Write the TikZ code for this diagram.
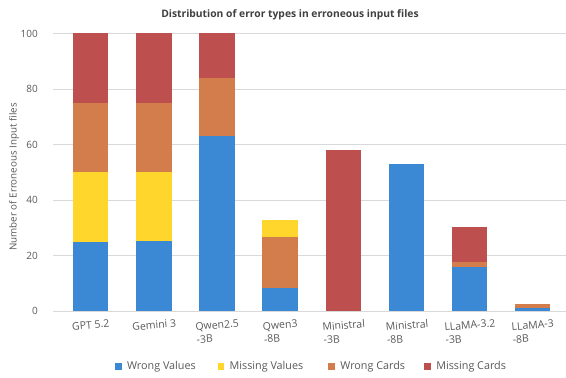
\documentclass[tikz,border=0pt]{standalone}
\usepackage{fontspec}
\setmainfont{Open Sans}
\usetikzlibrary{positioning}
\definecolor{wrongval}{RGB}{59,137,213}
\definecolor{missval}{RGB}{255,214,43}
\definecolor{wrongcard}{RGB}{210,125,75}
\definecolor{misscard}{RGB}{189,79,79}
\definecolor{gridgray}{RGB}{217,217,217}
\definecolor{labelgray}{RGB}{89,89,89}
\definecolor{titlegray}{RGB}{64,64,64}
% one stacked piece of a bar: centre x, from, to, colour
\newcommand{\barseg}[4]{\fill[#4] (#1-17.7,#2) rectangle (#1+17.7,#3);}

\begin{document}
\begin{tikzpicture}[x=1pt,y=1pt,
  grid/.style={draw=gridgray, line width=0.9pt},
  ticklbl/.style={anchor=east, inner sep=0pt, text=labelgray, font=\fontsize{10}{12}\selectfont},
  catlbl/.style={anchor=north, inner sep=0pt, align=left, rotate=5, text=labelgray, font=\fontsize{10.5}{13}\selectfont},
  legbox/.style={minimum size=6.5pt, inner sep=0pt},
  legtext/.style={inner sep=0pt, text=labelgray, font=\fontsize{10.8}{13}\selectfont}]
        \useasboundingbox[fill=white] (0,0) rectangle (566,378);

        \node[text=titlegray, font=\bfseries\fontsize{10.3}{12}\selectfont] (title) at (290,363) {Distribution of error types in erroneous input files};
        \node[rotate=90, text=labelgray, font=\fontsize{9.8}{12}\selectfont] (ytitle) at (14,201) {Number of Erroneous Input files};

        \begin{scope}[shift={(0,67)}, y=2.775pt]
        \foreach \v in {0,20,...,100} {
            \draw[grid] (53,\v) -- (566,\v);
            \node[ticklbl] (t\v) at (38,\v) {\v};
        }

        % GPT 5.2
        \barseg{90.3}{0}{25}{wrongval}
        \barseg{90.3}{25}{50}{missval}
        \barseg{90.3}{50}{75}{wrongcard}
        \barseg{90.3}{75}{100}{misscard}
        % Gemini 3
        \barseg{153.8}{0}{25.2}{wrongval}
        \barseg{153.8}{25.2}{50}{missval}
        \barseg{153.8}{50}{75}{wrongcard}
        \barseg{153.8}{75}{100}{misscard}
        % Qwen2.5-3B
        \barseg{216.8}{0}{63}{wrongval}
        \barseg{216.8}{63}{84}{wrongcard}
        \barseg{216.8}{84}{100}{misscard}
        % Qwen3-8B
        \barseg{279.8}{0}{8.4}{wrongval}
        \barseg{279.8}{8.4}{26.7}{wrongcard}
        \barseg{279.8}{26.7}{32.8}{missval}
        % Ministral-3B
        \barseg{343.3}{0}{58}{misscard}
        % Ministral-8B
        \barseg{406.7}{0}{53}{wrongval}
        % LLaMA-3.2-3B
        \barseg{469.5}{0}{16}{wrongval}
        \barseg{469.5}{16}{17.7}{wrongcard}
        \barseg{469.5}{17.7}{30.2}{misscard}
        % LLaMA-3-8B
        \barseg{532.3}{0}{1}{wrongval}
        \barseg{532.3}{1}{2.6}{wrongcard}
        \end{scope}

        \node[catlbl] (c1) at (90.3,57) {GPT 5.2};
        \node[catlbl] (c2) at (153.8,57) {Gemini 3};
        \node[catlbl] (c3) at (216.8,57) {Qwen2.5\\-3B};
        \node[catlbl] (c4) at (279.8,57) {Qwen3\\-8B};
        \node[catlbl] (c5) at (343.3,57) {Ministral\\-3B};
        \node[catlbl] (c6) at (406.7,57) {Ministral\\-8B};
        \node[catlbl] (c7) at (469.5,57) {LLaMA-3.2\\-3B};
        \node[catlbl] (c8) at (532.3,57) {LLaMA-3\\-8B};

        \node[legbox, fill=wrongval] (sq1) at (118.4,11.5) {};
        \node[legtext, right=5pt of sq1] (l1) {Wrong Values};
        \node[legbox, fill=missval] (sq2) at (221,11.5) {};
        \node[legtext, right=5pt of sq2] (l2) {Missing Values};
        \node[legbox, fill=wrongcard] (sq3) at (331.7,11.5) {};
        \node[legtext, right=5pt of sq3] (l3) {Wrong Cards};
        \node[legbox, fill=misscard] (sq4) at (427.7,11.5) {};
        \node[legtext, right=5pt of sq4] (l4) {Missing Cards};
    \end{tikzpicture}
\end{document}
